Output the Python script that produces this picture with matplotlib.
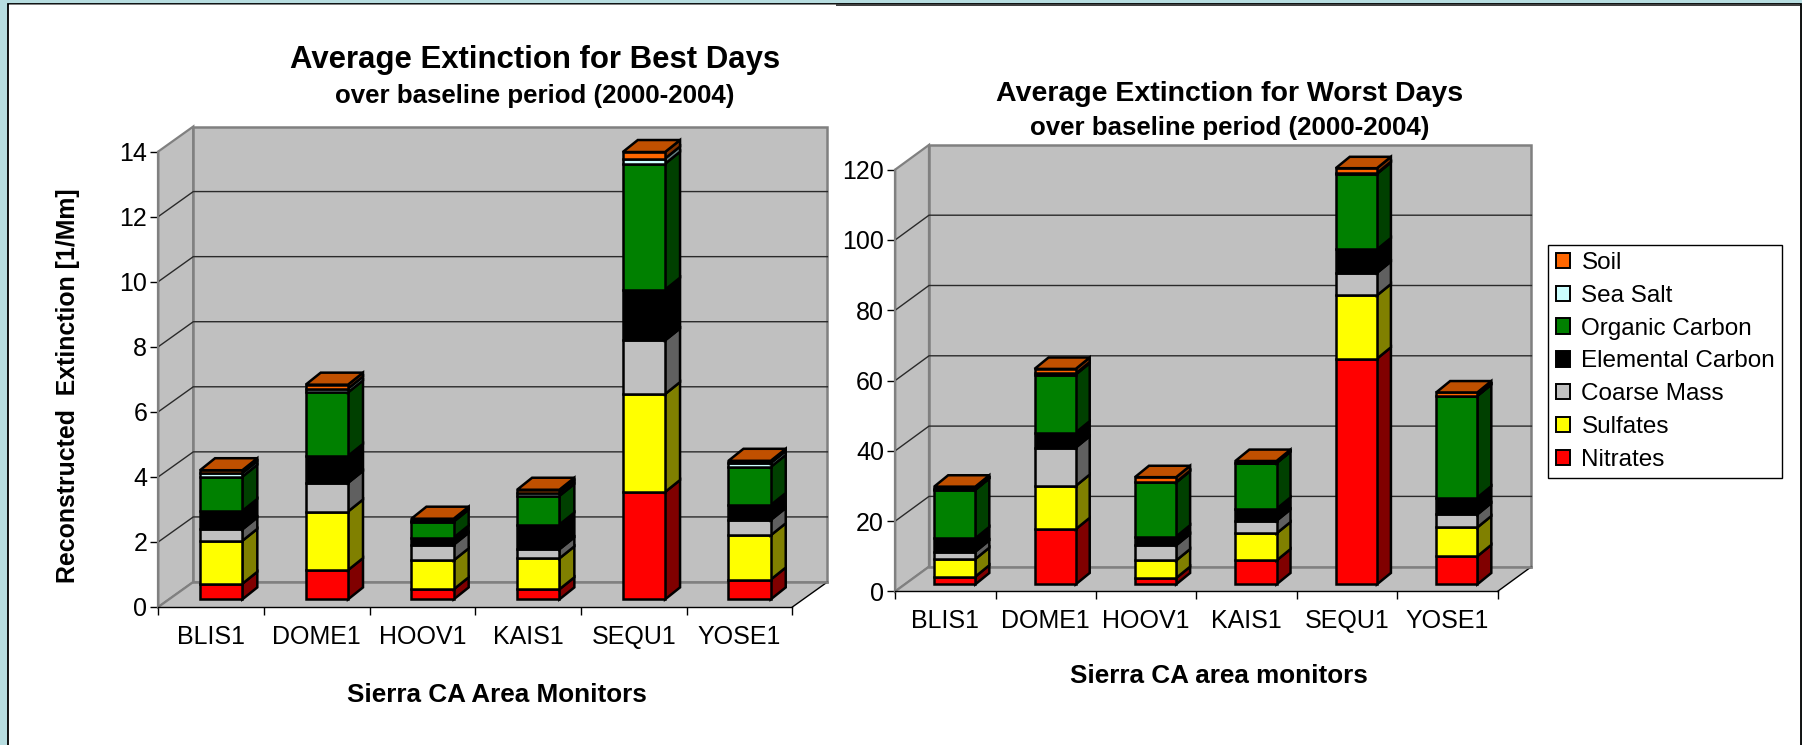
import matplotlib
matplotlib.use('Agg')
import matplotlib.pyplot as plt
from matplotlib.patches import Patch, Polygon, Rectangle

plt.rcParams['font.family'] = ['Liberation Sans', 'DejaVu Sans']

W, H = 1802, 745

monitors = ['BLIS1', 'DOME1', 'HOOV1', 'KAIS1', 'SEQU1', 'YOSE1']
species = ['Nitrates', 'Sulfates', 'Coarse Mass', 'Elemental Carbon',
           'Organic Carbon', 'Sea Salt', 'Soil']

# Best days
best_nitrates = [0.48, 0.90, 0.31, 0.31, 3.30, 0.61]
best_sulfates = [1.32, 1.80, 0.89, 0.95, 3.01, 1.36]
best_coarse = [0.35, 0.88, 0.48, 0.28, 1.65, 0.47]
best_elemental = [0.57, 0.83, 0.22, 0.76, 1.56, 0.46]
best_organic = [1.05, 1.95, 0.49, 0.88, 3.87, 1.17]
best_seasalt = [0.11, 0.12, 0.03, 0.10, 0.16, 0.12]
best_soil = [0.09, 0.12, 0.06, 0.09, 0.20, 0.07]

# Worst days
worst_nitrates = [2.2, 15.7, 1.8, 6.8, 64.2, 8.0]
worst_sulfates = [5.0, 12.3, 5.0, 7.7, 18.0, 8.2]
worst_coarse = [2.1, 10.9, 4.3, 3.6, 6.4, 3.7]
worst_elemental = [3.8, 4.3, 2.5, 3.4, 6.7, 4.8]
worst_organic = [13.8, 16.5, 15.4, 13.0, 21.5, 28.9]
worst_seasalt = [0.1, 0.3, 0.1, 0.1, 0.2, 0.1]
worst_soil = [0.8, 1.3, 1.4, 0.5, 1.4, 0.9]

best_yticks = [0, 2, 4, 6, 8, 10, 12, 14]
worst_yticks = [0, 20, 40, 60, 80, 100, 120]

front_colors = ['#ff0000', '#ffff00', '#c0c0c0', '#000000', '#008000', '#ccffff', '#ff6600']
side_colors = ['#800000', '#808000', '#606060', '#000000', '#004000', '#668080', '#803300']
top_color = '#c05000'
wall_color = '#c0c0c0'
wall_edge = '#808080'
EDGE = 1.8


def chart(x0, x1, y_top, y_bot, ymax, yticks, stacks, wall_dx, wall_dy, bar_dx, bar_dy,
          bar_w, bar_shift, lift):
    ax = fig.add_axes([x0 / W, 1 - y_bot / H, (x1 - x0) / W, (y_bot - y_top) / H])
    ax.set_xlim(0, 6)
    ax.set_ylim(0, ymax)
    ax.patch.set_visible(False)
    per_x = (x1 - x0) / 6
    per_y = (y_bot - y_top) / ymax
    dx, dy = wall_dx / per_x, wall_dy / per_y
    bdx, bdy = bar_dx / per_x, bar_dy / per_y

    def poly(pts, face, edge, lw, z):
        ax.add_patch(Polygon(pts, closed=True, facecolor=face, edgecolor=edge, linewidth=lw,
                             joinstyle='miter', clip_on=False, zorder=z))

    # walls and floor
    poly([(0, 0), (dx, dy), (dx, ymax + dy), (0, ymax)], wall_color, wall_edge, 1.6, 1)
    poly([(dx, dy), (6 + dx, dy), (6 + dx, ymax + dy), (dx, ymax + dy)], wall_color, wall_edge, 1.8, 1)
    poly([(0, 0), (6, 0), (6 + dx, dy), (dx, dy)], wall_color, 'none', 0, 1)
    ax.plot([6, 6 + dx], [0, dy], color='black', lw=1, clip_on=False, zorder=2)
    ax.plot([0, dx], [0, dy], color=wall_edge, lw=1.6, clip_on=False, zorder=2)
    ax.plot([dx, 6 + dx], [dy, dy], color=wall_edge, lw=1.8, clip_on=False, zorder=2)
    for v in yticks[1:-1]:
        ax.plot([0, dx, 6 + dx], [v, v + dy, v + dy], color='#2a2a2a', lw=1, clip_on=False, zorder=2)

    # bars, back to front within each stack
    z = 3
    for i in range(len(monitors)):
        left = i + 0.5 + bar_shift - bar_w / 2
        right = left + bar_w
        base = lift
        for s, vals in enumerate(stacks):
            top = base + vals[i]
            poly([(right, base), (right + bdx, base + bdy), (right + bdx, top + bdy), (right, top)],
                 side_colors[s], 'black', EDGE, z)
            poly([(left, base), (right, base), (right, top), (left, top)],
                 front_colors[s], 'black', EDGE, z + 0.1)
            base = top
            z += 0.2
        poly([(left, base), (right, base), (right + bdx, base + bdy), (left + bdx, base + bdy)],
             top_color, 'black', EDGE, z)

    ax.set_yticks(yticks)
    ax.set_yticklabels([str(t) for t in yticks], fontsize=18)
    ax.set_xticks(range(7))
    ax.set_xticklabels([])
    ax.set_xticks([i + 0.5 for i in range(6)], minor=True)
    ax.set_xticklabels(monitors, minor=True, fontsize=18)
    ax.tick_params(axis='x', which='minor', length=0, pad=13)
    ax.tick_params(axis='x', which='major', length=6, width=1, color='black')
    ax.tick_params(axis='y', length=6, width=1, pad=2)
    for name in ['top', 'right']:
        ax.spines[name].set_visible(False)
    ax.spines['left'].set_color(wall_edge)
    ax.spines['left'].set_linewidth(1.6)
    ax.spines['bottom'].set_linewidth(1)
    return ax


def label(x, y, s, size, **kw):
    fig.text(x / W, 1 - y / H, s, fontsize=size, fontweight='bold', ha='center', va='center', **kw)


fig = plt.figure(figsize=(W / 100, H / 100), dpi=100, facecolor='#b7dde0')

# white slide area with its dark border
fig.add_artist(Rectangle((7.5 / W, -0.01), (1800.5 - 7.5) / W, 1.01 - 3.5 / H, transform=fig.transFigure,
                         facecolor='white', edgecolor='black', linewidth=1.3, zorder=-3))
fig.add_artist(Rectangle((8.5 / W, 1 - 5 / H), (836 - 8.5) / W, 1 / H, transform=fig.transFigure,
                         facecolor='#808080', edgecolor='none', zorder=-2))
fig.add_artist(Rectangle((836 / W, 1 - 6 / H), (1800 - 836) / W, 2 / H, transform=fig.transFigure,
                         facecolor='#404040', edgecolor='none', zorder=-2))

best = [best_nitrates, best_sulfates, best_coarse, best_elemental, best_organic, best_seasalt, best_soil]
worst = [worst_nitrates, worst_sulfates, worst_coarse, worst_elemental, worst_organic, worst_seasalt, worst_soil]

chart(158.3, 792.4, 151.5, 607, 14, best_yticks, best, 35, 25, 15, 12, 0.40, 0.095, 0.234)
chart(895.2, 1497.6, 169.6, 591.4, 120, worst_yticks, worst, 33.8, 24.7, 14, 11.4, 0.41, 0.093, 2.0)

label(534.7, 60, 'Average Extinction for Best Days', 22.4)
label(535, 96.5, 'over baseline period (2000-2004)', 18.6)
label(497, 695.5, 'Sierra CA Area Monitors', 18.8)
label(68, 386, 'Reconstructed  Extinction [1/Mm]', 17.9, rotation=90)
label(1229.6, 94, 'Average Extinction for Worst Days', 20.5)
label(1230, 128, 'over baseline period (2000-2004)', 18.6)
label(1219, 675.6, 'Sierra CA area monitors', 18.8)

handles = [Patch(facecolor=front_colors[i], edgecolor='black', linewidth=1.4, label=species[i])
           for i in range(6, -1, -1)]
fig.legend(handles=handles, loc='upper left', bbox_to_anchor=(1548.4 / W, 1 - 244.7 / H),
           fontsize=17.5, frameon=True, fancybox=False, edgecolor='black', framealpha=1,
           handlelength=0.6, handleheight=0.6, handletextpad=0.46, labelspacing=0.445,
           borderpad=0.3, borderaxespad=0)

fig.savefig('out.png', dpi=100, facecolor=fig.get_facecolor())
